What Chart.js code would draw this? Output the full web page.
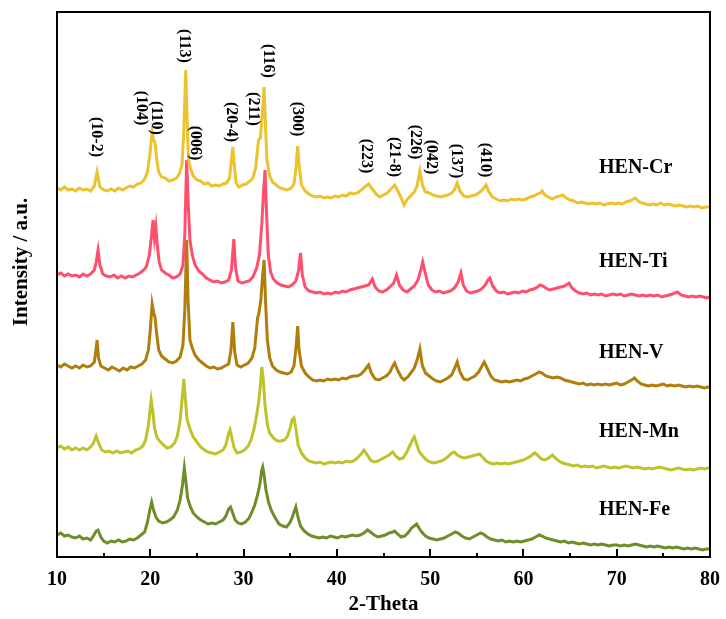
<!DOCTYPE html>
<html lang="en">
<head>
<meta charset="UTF-8">
<title>XRD HEN</title>
<script src="https://cdn.jsdelivr.net/npm/chart.js"></script>
<style>
    body { margin: 0; background: #fff; }
    canvas { display: block; }
</style>
</head>
<body>
<canvas id="xrdChart" width="726" height="619"></canvas>
<script>
// 2-Theta / intensity (a.u., curves already offset as in the figure)
const crPoints = [[10.0,369],[10.4,367],[10.8,370],[11.2,367],[11.6,368],[12.0,366],[12.4,369],[12.8,367],[13.2,368],[13.6,366],[14.0,371],[14.3,385],[14.6,370],[15.0,367],[15.4,366],[15.8,368],[16.2,366],[16.6,369],[17.0,367],[17.4,369],[17.8,371],[18.2,370],[18.6,373],[19.0,374],[19.4,378],[19.7,385],[19.95,402],[20.2,425],[20.35,417],[20.5,415],[20.7,397],[20.9,385],[21.2,380],[21.6,379],[22.0,376],[22.4,377],[22.8,379],[23.1,383],[23.4,392],[23.6,427],[23.8,487],[23.95,437],[24.1,397],[24.3,389],[24.6,381],[25.0,377],[25.4,376],[25.8,373],[26.2,374],[26.6,371],[27.0,372],[27.4,371],[27.8,373],[28.2,374],[28.5,379],[28.7,397],[28.85,410],[29.0,392],[29.2,374],[29.5,370],[29.9,372],[30.3,373],[30.7,376],[31.0,379],[31.3,389],[31.6,417],[31.8,419],[32.0,442],[32.2,470],[32.35,432],[32.5,397],[32.8,381],[33.1,375],[33.5,372],[33.9,369],[34.3,368],[34.7,367],[35.1,369],[35.4,373],[35.6,387],[35.8,411],[35.95,392],[36.2,372],[36.6,366],[37.0,363],[37.4,361],[37.8,360],[38.2,361],[38.6,359],[39.0,360],[39.4,359],[39.8,361],[40.2,360],[40.6,362],[41.0,361],[41.4,364],[41.8,363],[42.2,364],[42.6,367],[43.0,370],[43.4,373],[43.8,368],[44.2,363],[44.6,360],[45.0,362],[45.4,364],[45.8,368],[46.2,372],[46.6,365],[47.0,357],[47.2,352],[47.5,357],[47.9,361],[48.3,365],[48.6,371],[48.9,386],[49.2,371],[49.5,365],[49.9,364],[50.3,362],[50.7,361],[51.1,360],[51.5,361],[51.9,362],[52.3,364],[52.6,367],[52.9,374],[53.2,366],[53.6,361],[54.0,360],[54.4,361],[54.8,362],[55.2,364],[55.6,367],[56.0,372],[56.3,365],[56.7,360],[57.1,358],[57.5,356],[57.9,357],[58.3,356],[58.7,358],[59.1,357],[59.5,358],[59.9,357],[60.3,358],[60.7,360],[61.1,361],[61.5,363],[61.8,364],[62.0,366],[62.3,362],[62.7,360],[63.1,358],[63.5,360],[63.9,361],[64.2,362],[64.6,359],[65.0,357],[65.4,356],[65.8,354],[66.2,355],[66.6,354],[67.0,353],[67.4,354],[67.8,353],[68.2,354],[68.6,352],[69.0,353],[69.4,354],[69.8,353],[70.2,354],[70.6,353],[71.0,355],[71.4,356],[71.8,358],[72.0,359],[72.3,356],[72.7,354],[73.1,353],[73.5,352],[73.9,353],[74.3,352],[74.7,354],[75.1,352],[75.5,353],[75.9,352],[76.3,351],[76.7,352],[77.1,351],[77.5,350],[77.9,351],[78.3,350],[78.7,351],[79.1,349],[79.5,350],[80.0,350]];

const tiPoints = [[10.0,282],[10.4,284],[10.8,281],[11.2,283],[11.6,281],[12.0,282],[12.4,280],[12.8,283],[13.2,281],[13.6,283],[14.0,287],[14.2,295],[14.4,307],[14.6,292],[14.9,283],[15.3,281],[15.7,280],[16.1,282],[16.5,279],[16.9,281],[17.3,279],[17.7,281],[18.1,280],[18.5,282],[18.9,284],[19.3,287],[19.6,291],[19.9,302],[20.1,319],[20.3,337],[20.45,319],[20.6,330],[20.75,312],[20.95,295],[21.2,287],[21.6,284],[22.0,282],[22.4,279],[22.8,280],[23.2,283],[23.5,292],[23.7,322],[23.9,397],[24.05,357],[24.25,317],[24.5,302],[24.8,292],[25.2,286],[25.6,283],[26.0,279],[26.4,277],[26.8,275],[27.2,276],[27.6,274],[28.0,275],[28.4,277],[28.7,287],[28.95,318],[29.15,289],[29.4,276],[29.8,274],[30.2,275],[30.6,276],[31.0,280],[31.4,289],[31.7,302],[31.95,332],[32.15,367],[32.3,387],[32.45,347],[32.65,302],[32.9,285],[33.2,278],[33.6,274],[34.0,272],[34.4,271],[34.8,270],[35.2,272],[35.6,276],[35.9,287],[36.1,304],[36.3,282],[36.6,270],[37.0,266],[37.4,265],[37.8,264],[38.2,265],[38.6,263],[39.0,264],[39.4,263],[39.8,265],[40.2,264],[40.6,266],[41.0,265],[41.4,267],[41.8,268],[42.2,269],[42.6,270],[43.0,271],[43.4,272],[43.8,278],[44.1,270],[44.5,266],[44.9,265],[45.3,267],[45.7,270],[46.1,274],[46.4,282],[46.7,272],[47.1,267],[47.5,265],[47.9,268],[48.3,271],[48.7,277],[49.0,287],[49.2,295],[49.45,285],[49.8,272],[50.2,267],[50.6,265],[51.0,266],[51.4,264],[51.8,265],[52.2,266],[52.6,269],[53.0,275],[53.3,284],[53.55,272],[53.9,266],[54.3,264],[54.7,265],[55.1,266],[55.5,268],[55.9,272],[56.2,277],[56.4,279],[56.7,271],[57.1,266],[57.5,264],[57.9,265],[58.3,263],[58.7,264],[59.1,265],[59.5,264],[59.9,266],[60.3,265],[60.7,267],[61.1,268],[61.5,270],[61.8,272],[62.1,271],[62.4,269],[62.8,267],[63.2,268],[63.6,269],[64.0,270],[64.4,271],[64.9,274],[65.2,269],[65.6,266],[66.0,264],[66.4,263],[66.8,264],[67.2,262],[67.6,263],[68.0,262],[68.4,263],[68.8,261],[69.2,262],[69.6,263],[70.0,262],[70.4,263],[70.8,261],[71.2,262],[71.6,263],[72.0,262],[72.4,261],[72.8,262],[73.2,261],[73.6,262],[74.0,261],[74.4,262],[74.8,260],[75.2,261],[75.6,262],[76.0,263],[76.5,265],[76.9,262],[77.3,261],[77.7,260],[78.1,261],[78.5,260],[78.9,261],[79.3,260],[79.7,259],[80.0,260]];

const vPoints = [[10.0,192],[10.4,190],[10.8,193],[11.2,191],[11.6,189],[12.0,191],[12.4,189],[12.8,192],[13.2,190],[13.6,191],[14.0,195],[14.15,205],[14.3,217],[14.45,199],[14.7,191],[15.1,189],[15.5,187],[15.9,190],[16.3,188],[16.7,186],[17.1,189],[17.5,187],[17.9,190],[18.3,189],[18.7,191],[19.1,193],[19.5,197],[19.8,207],[20.0,227],[20.2,253],[20.35,245],[20.5,240],[20.7,222],[20.9,207],[21.2,201],[21.6,198],[22.0,195],[22.4,194],[22.8,196],[23.2,200],[23.5,212],[23.7,247],[23.9,317],[24.05,257],[24.25,217],[24.5,209],[24.8,202],[25.2,197],[25.6,194],[26.0,191],[26.4,189],[26.8,190],[27.2,188],[27.6,189],[28.0,191],[28.4,193],[28.65,207],[28.85,235],[29.05,205],[29.3,192],[29.7,190],[30.1,192],[30.5,194],[30.9,199],[31.2,209],[31.5,239],[31.65,244],[31.85,257],[32.05,282],[32.2,297],[32.35,257],[32.55,217],[32.8,199],[33.1,191],[33.5,187],[33.9,185],[34.3,184],[34.7,183],[35.1,185],[35.4,191],[35.6,207],[35.8,231],[35.95,207],[36.2,191],[36.6,184],[37.0,180],[37.4,177],[37.8,176],[38.2,177],[38.6,176],[39.0,178],[39.4,177],[39.8,178],[40.2,177],[40.6,179],[41.0,178],[41.4,180],[41.8,181],[42.2,181],[42.6,183],[43.0,187],[43.4,192],[43.7,184],[44.1,178],[44.5,177],[44.9,179],[45.3,181],[45.7,185],[46.0,191],[46.2,194],[46.5,187],[46.9,180],[47.2,177],[47.6,180],[48.0,185],[48.3,189],[48.6,197],[48.9,208],[49.15,192],[49.5,184],[49.9,181],[50.3,178],[50.7,176],[51.1,175],[51.5,177],[51.9,179],[52.3,182],[52.6,188],[52.9,195],[53.2,185],[53.6,178],[54.0,177],[54.4,179],[54.8,181],[55.2,185],[55.5,190],[55.8,195],[56.1,189],[56.5,181],[56.9,177],[57.3,176],[57.7,175],[58.1,176],[58.5,175],[58.9,176],[59.3,177],[59.7,176],[60.1,178],[60.5,179],[60.9,181],[61.3,183],[61.7,185],[62.0,184],[62.4,181],[62.8,180],[63.2,179],[63.6,180],[64.0,179],[64.4,177],[64.8,176],[65.2,175],[65.6,174],[66.0,173],[66.4,174],[66.8,172],[67.2,173],[67.6,172],[68.0,173],[68.4,172],[68.8,173],[69.2,172],[69.6,173],[70.0,174],[70.4,172],[70.8,173],[71.2,175],[71.6,177],[71.9,179],[72.2,176],[72.6,173],[73.0,172],[73.4,171],[73.8,172],[74.2,171],[74.6,172],[75.0,173],[75.4,171],[75.8,172],[76.2,171],[76.6,172],[77.0,171],[77.4,170],[77.8,171],[78.2,170],[78.6,171],[79.0,170],[79.4,169],[79.8,170],[80.0,170]];

const mnPoints = [[10.0,109],[10.4,111],[10.8,108],[11.2,110],[11.6,107],[12.0,109],[12.4,107],[12.8,109],[13.2,107],[13.6,110],[13.9,114],[14.2,121],[14.5,113],[14.8,107],[15.2,105],[15.6,106],[16.0,104],[16.4,106],[16.8,104],[17.2,105],[17.6,106],[18.0,104],[18.4,107],[18.8,108],[19.2,111],[19.5,117],[19.8,132],[20.0,149],[20.1,157],[20.25,147],[20.45,129],[20.7,120],[21.0,116],[21.4,112],[21.8,109],[22.2,110],[22.6,114],[22.9,121],[23.2,137],[23.45,162],[23.6,178],[23.75,159],[23.95,137],[24.3,127],[24.6,120],[25.0,115],[25.4,110],[25.8,107],[26.2,105],[26.6,104],[27.0,103],[27.4,105],[27.8,107],[28.1,112],[28.35,122],[28.55,127],[28.75,119],[29.0,109],[29.3,104],[29.7,105],[30.1,107],[30.5,111],[30.8,117],[31.1,127],[31.4,142],[31.65,157],[31.85,177],[31.95,190],[32.1,179],[32.3,152],[32.55,132],[32.8,124],[33.2,119],[33.6,116],[34.0,116],[34.4,117],[34.7,121],[35.0,129],[35.2,137],[35.4,139],[35.6,129],[35.85,112],[36.2,104],[36.6,99],[37.0,96],[37.4,95],[37.8,94],[38.2,95],[38.6,93],[39.0,94],[39.4,95],[39.8,94],[40.2,95],[40.6,94],[41.0,96],[41.4,95],[41.8,96],[42.2,99],[42.6,103],[42.9,107],[43.2,103],[43.6,97],[44.0,95],[44.4,96],[44.8,98],[45.2,100],[45.6,102],[46.0,105],[46.3,101],[46.7,98],[47.1,99],[47.5,105],[47.8,111],[48.1,117],[48.3,120],[48.55,113],[48.85,105],[49.2,101],[49.6,97],[50.0,95],[50.4,94],[50.8,95],[51.2,96],[51.6,98],[52.0,101],[52.3,104],[52.6,105],[52.9,102],[53.3,100],[53.7,99],[54.1,100],[54.5,101],[54.9,102],[55.3,103],[55.6,100],[56.0,96],[56.4,94],[56.8,93],[57.2,94],[57.6,93],[58.0,94],[58.4,93],[58.8,94],[59.2,95],[59.6,96],[60.0,97],[60.4,99],[60.8,101],[61.2,104],[61.5,102],[61.9,98],[62.3,97],[62.7,99],[63.1,102],[63.4,99],[63.8,96],[64.2,94],[64.6,93],[65.0,92],[65.4,91],[65.8,92],[66.2,90],[66.6,91],[67.0,90],[67.4,91],[67.8,89],[68.2,90],[68.6,91],[69.0,90],[69.4,89],[69.8,90],[70.2,89],[70.6,90],[71.0,91],[71.4,90],[71.8,89],[72.2,90],[72.6,89],[73.0,88],[73.4,89],[73.8,88],[74.2,89],[74.6,90],[75.0,89],[75.4,88],[75.8,87],[76.2,88],[76.6,89],[77.0,88],[77.4,87],[77.8,88],[78.2,87],[78.6,88],[79.0,89],[79.4,88],[79.8,89],[80.0,89]];

const fePoints = [[10.0,22],[10.4,24],[10.8,21],[11.2,22],[11.6,20],[12.0,19],[12.4,21],[12.8,18],[13.2,19],[13.6,17],[13.9,21],[14.2,26],[14.4,27],[14.7,20],[15.0,16],[15.4,14],[15.8,16],[16.2,15],[16.6,17],[17.0,15],[17.4,16],[17.8,18],[18.2,17],[18.6,19],[19.0,22],[19.4,25],[19.7,35],[19.95,47],[20.15,55],[20.35,47],[20.6,40],[20.9,36],[21.3,34],[21.7,35],[22.1,37],[22.5,40],[22.9,47],[23.2,57],[23.45,72],[23.65,89],[23.8,77],[24.0,59],[24.3,50],[24.6,44],[25.0,40],[25.4,37],[25.8,35],[26.2,33],[26.6,34],[27.0,33],[27.4,35],[27.8,37],[28.1,41],[28.4,48],[28.6,50],[28.8,45],[29.1,37],[29.4,34],[29.8,33],[30.2,35],[30.6,39],[30.9,45],[31.2,52],[31.5,62],[31.75,73],[31.95,87],[32.05,90],[32.2,82],[32.4,67],[32.7,54],[33.0,46],[33.4,39],[33.8,33],[34.2,31],[34.6,30],[34.95,34],[35.2,39],[35.4,45],[35.6,50],[35.8,41],[36.1,31],[36.5,26],[36.9,23],[37.3,21],[37.7,20],[38.1,19],[38.5,20],[38.9,19],[39.3,21],[39.7,20],[40.1,19],[40.5,21],[40.9,20],[41.3,21],[41.7,22],[42.1,21],[42.5,22],[42.9,24],[43.3,27],[43.6,25],[44.0,22],[44.4,20],[44.8,21],[45.2,22],[45.6,24],[46.0,25],[46.2,26],[46.5,23],[46.9,20],[47.3,21],[47.7,25],[48.0,29],[48.3,31],[48.55,33],[48.8,29],[49.1,25],[49.5,21],[49.9,19],[50.3,18],[50.7,17],[51.1,18],[51.5,19],[51.9,21],[52.3,23],[52.7,25],[53.0,24],[53.4,21],[53.8,19],[54.2,18],[54.6,20],[55.0,22],[55.4,24],[55.7,23],[56.1,20],[56.5,18],[56.9,17],[57.3,16],[57.7,17],[58.1,15],[58.5,16],[58.9,15],[59.3,16],[59.7,15],[60.1,16],[60.5,17],[60.9,18],[61.3,20],[61.7,22],[62.0,21],[62.4,19],[62.8,18],[63.2,17],[63.6,16],[64.0,15],[64.4,16],[64.8,14],[65.2,15],[65.6,14],[66.0,13],[66.4,14],[66.8,13],[67.2,12],[67.6,13],[68.0,12],[68.4,13],[68.8,12],[69.2,11],[69.6,12],[70.0,12],[70.4,11],[70.8,12],[71.2,11],[71.6,12],[72.0,13],[72.4,12],[72.8,11],[73.2,10],[73.6,11],[74.0,10],[74.4,11],[74.8,10],[75.2,9],[75.6,10],[76.0,9],[76.4,10],[76.8,9],[77.2,8],[77.6,9],[78.0,8],[78.4,9],[78.8,8],[79.2,7],[79.6,8],[80.0,8]];

const sampleNames = ['HEN-Cr', 'HEN-Ti', 'HEN-V', 'HEN-Mn', 'HEN-Fe'];
const sampleColors = ['#ECC22E', '#FF4F6E', '#B07E0C', '#BEC32B', '#6F8E2A'];
const sampleSeries = [crPoints, tiPoints, vPoints, mnPoints, fePoints];
// where each sample name sits (2-Theta, intensity)
const sampleLabelAt = [[68.1, 389], [68.1, 295], [68.1, 204], [68.1, 125], [68.1, 47]];

const peakNames = ['(10-2)', '(104)', '(110)', '(113)', '(006)', '(20-4)', '(211)', '(116)', '(300)',
                   '(223)', '(21-8)', '(226)', '(042)', '(137)', '(410)'];
const peakLabelAt = [[14.2, 420], [19.0, 449], [20.6, 439], [23.6, 511], [24.8, 414], [28.7, 435],
                     [31.0, 448], [32.6, 496], [35.7, 438], [43.1, 401], [46.1, 400], [48.4, 415],
                     [50.1, 400], [52.8, 396], [55.9, 397]];

const majorTicks = [10, 20, 30, 40, 50, 60, 70, 80];
const minorTicks = [15, 25, 35, 45, 55, 65, 75];

const serif = "'Liberation Serif', 'Times New Roman', serif";

// frame, inward ticks, tick labels and all the texts
const xrdDecor = {
    id: 'xrdDecor',
    afterDatasetsDraw(chart) {
        const ctx = chart.ctx;
        const a = chart.chartArea;
        const xs = chart.scales.x;
        const ys = chart.scales.y;
        ctx.save();

        ctx.strokeStyle = '#000';
        ctx.lineWidth = 2;
        ctx.strokeRect(a.left, a.top, a.right - a.left, a.bottom - a.top);

        ctx.beginPath();
        majorTicks.forEach(t => {
            const px = Math.round(xs.getPixelForValue(t));
            ctx.moveTo(px, a.bottom);
            ctx.lineTo(px, a.bottom - 8);
        });
        minorTicks.forEach(t => {
            const px = Math.round(xs.getPixelForValue(t));
            ctx.moveTo(px, a.bottom);
            ctx.lineTo(px, a.bottom - 4);
        });
        ctx.stroke();

        ctx.fillStyle = '#000';
        ctx.textBaseline = 'middle';
        ctx.textAlign = 'center';
        ctx.font = 'bold 20px ' + serif;
        majorTicks.forEach(t => {
            ctx.fillText(String(t), xs.getPixelForValue(t), a.bottom + 23);
        });
        ctx.font = 'bold 21px ' + serif;
        ctx.fillText('2-Theta', (a.left + a.right) / 2, a.bottom + 48);

        ctx.font = 'bold 16px ' + serif;
        peakNames.forEach((name, i) => {
            const px = xs.getPixelForValue(peakLabelAt[i][0]);
            const py = ys.getPixelForValue(peakLabelAt[i][1]);
            ctx.save();
            ctx.translate(px, py);
            ctx.rotate(Math.PI / 2);
            ctx.fillText(name, 0, 0);
            ctx.restore();
        });

        ctx.font = 'bold 20px ' + serif;
        ctx.textAlign = 'left';
        sampleNames.forEach((name, i) => {
            ctx.fillText(name, xs.getPixelForValue(sampleLabelAt[i][0]), ys.getPixelForValue(sampleLabelAt[i][1]));
        });

        ctx.font = 'bold 21px ' + serif;
        ctx.textAlign = 'center';
        ctx.translate(a.left - 35, 262);
        ctx.rotate(-Math.PI / 2);
        ctx.fillText('Intensity / a.u.', 0, 0);
        ctx.restore();
    }
};

const ctx = document.getElementById('xrdChart').getContext('2d');
new Chart(ctx, {
    type: 'line',
    data: {
        datasets: sampleSeries.map((pts, i) => ({
            label: sampleNames[i],
            data: pts.map(p => ({ x: p[0], y: p[1] })),
            borderColor: sampleColors[i],
            borderWidth: 3,
            pointRadius: 0,
            tension: 0,
            fill: false
        }))
    },
    options: {
        responsive: false,
        animation: false,
        devicePixelRatio: 1,
        layout: { padding: { left: 57, right: 16, top: 12, bottom: 62 } },
        plugins: {
            legend: { display: false },
            tooltip: { enabled: false }
        },
        scales: {
            x: { type: 'linear', display: false, min: 10, max: 80 },
            y: { display: false, min: 0, max: 545 }
        }
    },
    plugins: [xrdDecor]
});
</script>
</body>
</html>
